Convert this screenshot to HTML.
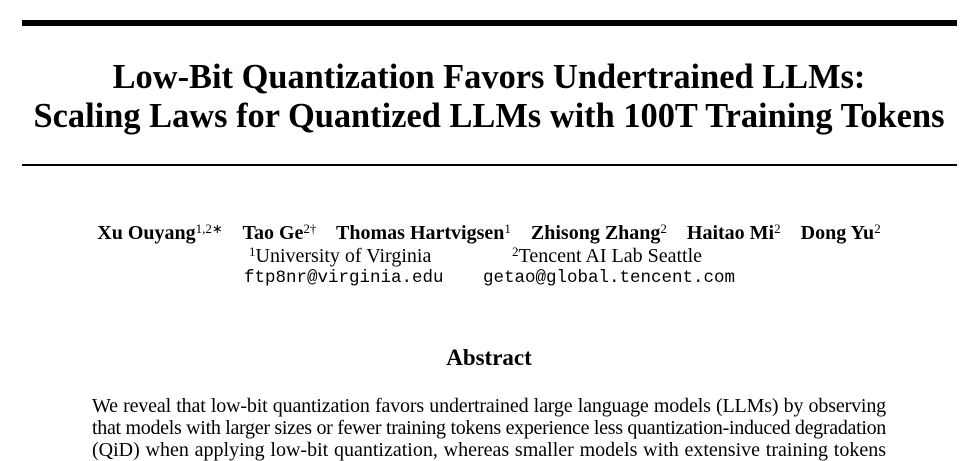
<!DOCTYPE html>
<html><head><meta charset="utf-8"><style>
body{margin:0;width:978px;height:460px;overflow:hidden;background:#fff;font-family:"Liberation Serif",serif;color:#000;position:relative}
.a{position:absolute;left:0;width:978px;text-align:center;white-space:nowrap}
sup{font-size:13px;font-weight:normal;vertical-align:6px;line-height:0}
</style></head><body>
<div style="position:absolute;left:22px;top:20px;width:935px;height:6px;background:#000"></div>
<div class="a" style="top:57px;font-size:34.4px;font-weight:bold;line-height:40px">Low-Bit Quantization Favors Undertrained LLMs:</div>
<div class="a" style="top:96px;font-size:34.4px;font-weight:bold;line-height:40px">Scaling Laws for Quantized LLMs with 100T Training Tokens</div>
<div style="position:absolute;left:22px;top:164px;width:935px;height:2px;background:#000"></div>
<div class="a" style="top:222px;font-size:20px;font-weight:bold;line-height:22px">Xu Ouyang<sup>1,2∗</sup>&nbsp;&nbsp;&nbsp; Tao Ge<sup>2†</sup>&nbsp;&nbsp;&nbsp; Thomas Hartvigsen<sup>1</sup>&nbsp;&nbsp;&nbsp; Zhisong Zhang<sup>2</sup>&nbsp;&nbsp;&nbsp; Haitao Mi<sup>2</sup>&nbsp;&nbsp;&nbsp; Dong Yu<sup>2</sup></div>
<div style="position:absolute;left:249px;top:245px;font-size:20px;line-height:22px;white-space:nowrap"><sup>1</sup>University of Virginia</div>
<div style="position:absolute;left:512px;top:245px;font-size:20px;line-height:22px;white-space:nowrap"><sup>2</sup>Tencent AI Lab Seattle</div>
<div style="position:absolute;left:244px;top:268px;font-family:'Liberation Mono',monospace;font-size:17.5px;line-height:20px;white-space:nowrap">ftp8nr@virginia.edu</div>
<div style="position:absolute;left:483px;top:268px;font-family:'Liberation Mono',monospace;font-size:17.5px;line-height:20px;white-space:nowrap">getao@global.tencent.com</div>
<div class="a" style="top:345px;font-size:23px;font-weight:bold;line-height:26px">Abstract</div>
<div style="position:absolute;left:92px;width:794px;top:395px;font-size:20px;line-height:22px;text-align:justify;text-align-last:justify;white-space:nowrap;letter-spacing:-0.16px">We reveal that low-bit quantization favors undertrained large language models (LLMs) by observing</div>
<div style="position:absolute;left:92px;width:794px;top:417px;font-size:20px;line-height:22px;text-align:justify;text-align-last:justify;white-space:nowrap;letter-spacing:-0.3px">that models with larger sizes or fewer training tokens experience less quantization-induced degradation</div>
<div style="position:absolute;left:92px;width:794px;top:439px;font-size:20px;line-height:22px;text-align:justify;text-align-last:justify;white-space:nowrap">(QiD) when applying low-bit quantization, whereas smaller models with extensive training tokens</div>
</body></html>
